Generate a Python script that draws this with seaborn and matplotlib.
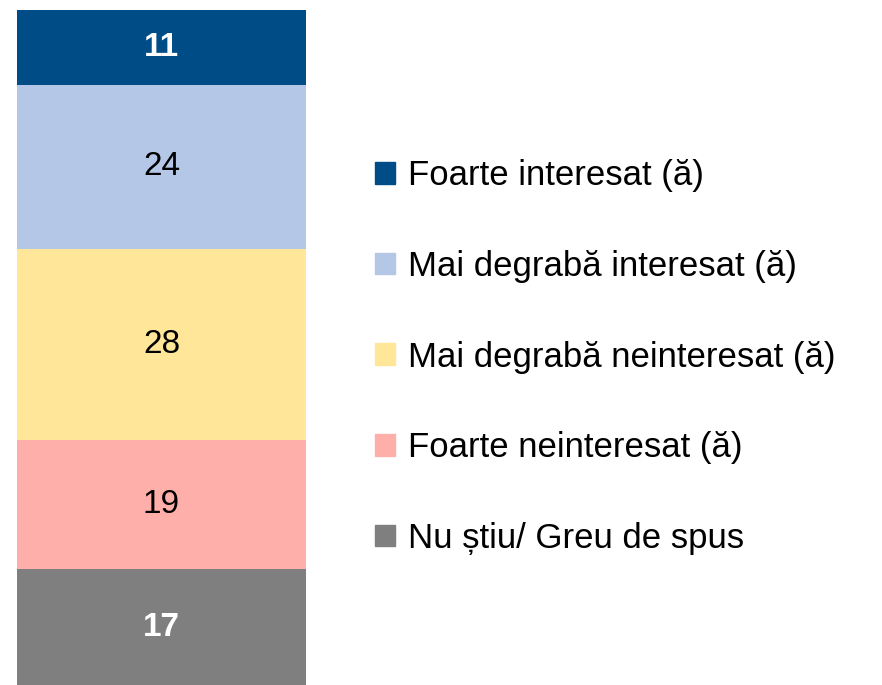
import matplotlib
matplotlib.use("Agg")
import matplotlib.pyplot as plt
import matplotlib.patches as mpatches
import seaborn as sns
import numpy as np
import pandas as pd

# stacked from bottom to top
categories = ["Nu știu/ Greu de spus", "Foarte neinteresat (ă)",
              "Mai degrabă neinteresat (ă)", "Mai degrabă interesat (ă)",
              "Foarte interesat (ă)"]
values = [17, 19, 28, 24, 11]
colors = ["#7F7F7F", "#FFAFA9", "#FFE699", "#B4C7E7", "#004C86"]
label_colors = ["white", "black", "black", "black", "white"]
label_weights = ["bold", "normal", "normal", "normal", "bold"]

sns.set_style("white")
plt.rcParams["font.family"] = ["Liberation Sans", "DejaVu Sans"]
plt.rcParams["text.color"] = "black"

fig = plt.figure(figsize=(8.82, 6.85), dpi=100)
ax = fig.add_axes([17 / 882, 0, (306 - 17) / 882, 1 - 10 / 685])

tops = np.cumsum(values)
bottoms = tops - np.array(values)

# draw cumulative totals from the tallest down so each segment shows
for i in reversed(range(len(values))):
    df = pd.DataFrame({"g": ["x"], "v": [tops[i]]})
    sns.barplot(data=df, x="g", y="v", color=colors[i], width=1.0,
                saturation=1, ax=ax, edgecolor="none")

for i, v in enumerate(values):
    ax.text(0, bottoms[i] + v / 2, str(v), ha="center", va="center",
            fontsize=24, color=label_colors[i], fontweight=label_weights[i])

ax.set_xlim(-0.5, 0.5)
ax.set_ylim(0, tops[-1])
ax.axis("off")

handles = [mpatches.Patch(color=colors[i], label=categories[i])
           for i in reversed(range(len(values)))]
leg = fig.legend(handles=handles, loc="center left", bbox_to_anchor=(375 / 882, 1 - 357 / 685),
                 frameon=False, fontsize=25, handlelength=0.58, handleheight=0.58,
                 handletextpad=0.37, labelspacing=1.66, borderpad=0, borderaxespad=0)
for t in leg.get_texts():
    t.set_color("black")

fig.savefig("out.png", dpi=100)
